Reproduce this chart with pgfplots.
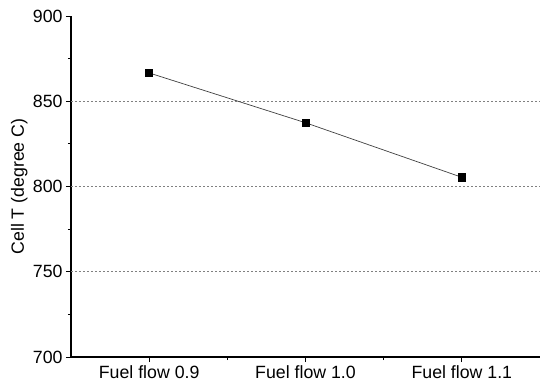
\documentclass[border=0pt]{standalone}
\usepackage{fontspec}
\setmainfont{Liberation Sans}
\usepackage{pgfplots}
\pgfplotsset{compat=1.18}
\begin{document}
\begin{tikzpicture}
\begin{axis}[
  at={(0,0)}, anchor=south west,
  scale only axis,
  width=469bp, height=341bp,
  xmin=-0.5, xmax=2.5,
  ymin=700, ymax=900,
  axis lines*=left,
  axis line style={line width=1.1bp, black},
  tick align=outside,
  major tick length=5bp,
  minor tick length=3bp,
  tick style={line width=0.9bp, black},
  xtick={0,1,2},
  xticklabels={Fuel flow 0.9, Fuel flow 1.0, Fuel flow 1.1},
  minor xtick={0.5,1.5},
  ytick={700,750,800,850,900},
  minor ytick={725,775,825,875},
  extra y ticks={750,800,850},
  extra y tick labels={},
  extra y tick style={grid=major, major tick length=0pt},
  grid style={gray, line width=0.6bp, dash pattern=on 2bp off 2bp},
  ticklabel style={font=\fontsize{17.8}{21}\selectfont},
  /pgf/number format/assume math mode=true,
  xticklabel style={yshift=-0.5bp},
  ylabel={Cell T (degree C)},
  ylabel style={font=\fontsize{17.8}{21}\selectfont, at={(axis description cs:-0.11,0.5)}, anchor=center},
  clip=false,
]
\addplot[color=black!75, line width=0.7bp, mark=square*, mark size=3.6bp, mark options={solid, fill=black, draw=black}]
  coordinates {(0,866.6) (1,837.4) (2,805.4)};
\end{axis}
\pgfresetboundingbox
\path[use as bounding box] (-71bp,-32bp) rectangle (469bp,357bp);
\end{tikzpicture}
\end{document}
